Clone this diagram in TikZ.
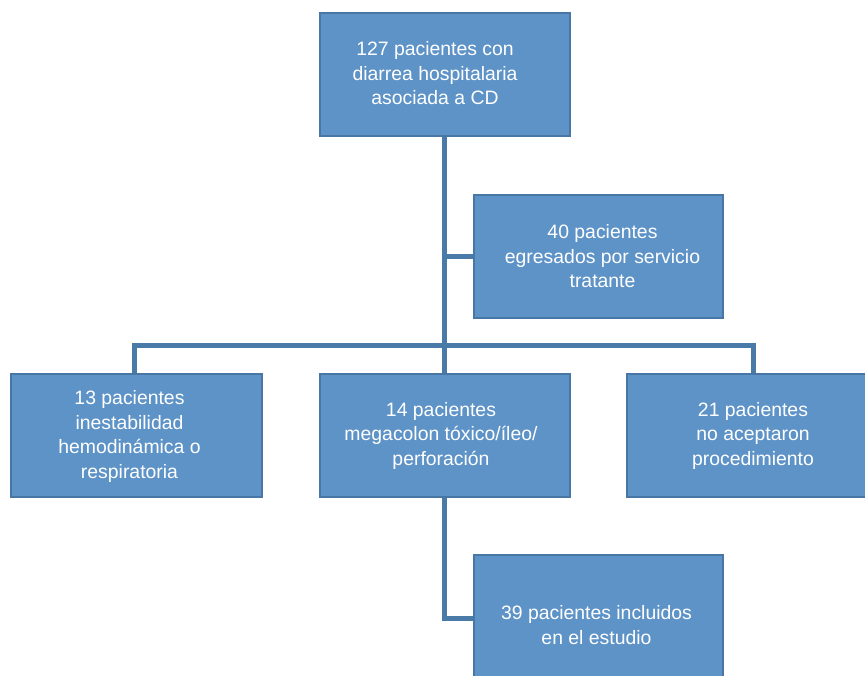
\documentclass[tikz,border=0pt]{standalone}
\usepackage{fontspec}
\setmainfont{Liberation Sans}
\definecolor{boxfill}{RGB}{94,147,199}
\definecolor{boxline}{RGB}{72,119,166}
\definecolor{conn}{RGB}{74,122,168}
\begin{document}
\begin{tikzpicture}[x=1pt,y=-1pt,
  flowbox/.style={draw=boxline,fill=boxfill,line width=2.5pt,minimum width=250pt,minimum height=123pt,inner sep=0pt},
  boxtext/.style={text=white,align=center,inner sep=0pt,font=\fontsize{19.4}{24.5}\selectfont},
  link/.style={draw=conn,line width=5pt}]
\useasboundingbox (0,0) rectangle (865,676);
\node[flowbox] (top) at (445,74.5) {};
\node[boxtext] (topT) at ([xshift=-10pt,yshift=1pt]top.center) {127 pacientes con\\diarrea hospitalaria\\asociada a CD};
\node[flowbox,minimum width=249pt] (egr) at (598.5,256.5) {};
\node[boxtext] (egrT) at ([xshift=4pt]egr.center) {40 pacientes\\egresados por servicio\\tratante};
% connectors (drawn before lower boxes)
\coordinate (j1) at (444,257);
\coordinate (j2) at (444,346);
\coordinate (jl) at (134,346);
\coordinate (jr) at (753,346);
\coordinate (jb) at (444,618);
\draw[link] (top.south -| j1) -- (j2);
\draw[link] (j1) -- (egr.west |- j1);
\draw[link] (jl |- 0,374) -- (jl) -- (jr) -- (jr |- 0,374);
\node[flowbox,minimum width=251pt] (ines) at (136.5,435.5) {};
\node[boxtext] (inesT) at ([xshift=-7pt,yshift=-1pt]ines.center) {13 pacientes\\inestabilidad\\hemodinámica o\\respiratoria};
\node[flowbox] (mega) at (445,435.5) {};
\node[boxtext] (megaT) at ([xshift=-4pt]mega.center) {14 pacientes\\megacolon tóxico/íleo/\\perforación};
\node[flowbox] (noac) at (752,435.5) {};
\node[boxtext] (noacT) at ([xshift=1pt]noac.center) {21 pacientes\\no aceptaron\\procedimiento};
\node[flowbox,minimum width=249pt,minimum height=140pt] (incl) at (598.5,625) {};
\node[boxtext] (inclT) at ([xshift=-2pt]incl.center) {39 pacientes incluidos\\en el estudio};
\draw[link] (j2) -- (mega.north -| j2);
\draw[link] (mega.south -| jb) -- (jb) -- (incl.west |- jb);
\end{tikzpicture}
\end{document}
